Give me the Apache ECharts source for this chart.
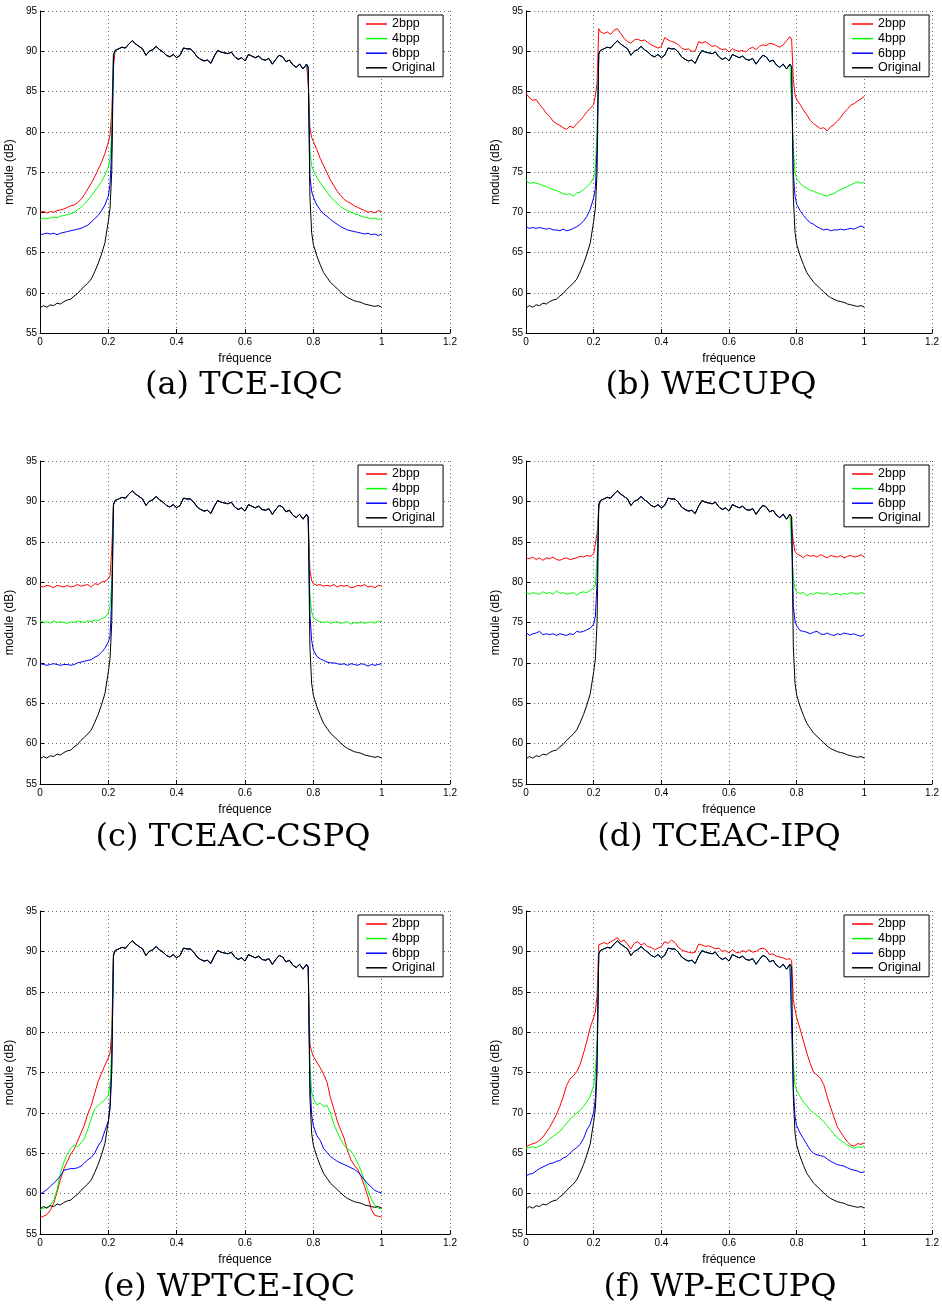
<!DOCTYPE html>
<html>
<head>
<meta charset="utf-8">
<title>Spectres</title>
<script src="https://cdn.jsdelivr.net/npm/echarts@6/dist/echarts.min.js"></script>
<style>
  html, body { margin: 0; padding: 0; background: #fff; }
  #chart { width: 942px; height: 1310px; }
</style>
</head>
<body>
<div id="chart"></div>
<script>
// frequency samples (normalised), denser around the two band edges
var freqLow = [0, 0.01, 0.02, 0.03, 0.04, 0.05, 0.06, 0.07, 0.08, 0.09, 0.1, 0.11, 0.12, 0.13, 0.14, 0.15, 0.16, 0.17, 0.18, 0.19, 0.2, 0.205, 0.21, 0.215];
var freqPass = [0.22, 0.23, 0.24, 0.25, 0.26, 0.27, 0.28, 0.29, 0.3, 0.31, 0.32, 0.33, 0.34, 0.35, 0.36, 0.37, 0.38, 0.39,
  0.4, 0.41, 0.42, 0.43, 0.44, 0.45, 0.46, 0.47, 0.48, 0.49, 0.5, 0.51, 0.52, 0.53, 0.54, 0.55, 0.56, 0.57, 0.58, 0.59,
  0.6, 0.61, 0.62, 0.63, 0.64, 0.65, 0.66, 0.67, 0.68, 0.69, 0.7, 0.71, 0.72, 0.73, 0.74, 0.75, 0.76, 0.77, 0.78];
var freqHigh = [0.785, 0.79, 0.795, 0.8, 0.81, 0.82, 0.83, 0.84, 0.85, 0.86, 0.87, 0.88, 0.89, 0.9, 0.91, 0.92, 0.93, 0.94, 0.95, 0.96, 0.97, 0.98, 0.99, 1];

var xTicks = [0, 0.2, 0.4, 0.6, 0.8, 1, 1.2];
var yTicks = [55, 60, 65, 70, 75, 80, 85, 90, 95];
var seriesNames = ['2bpp', '4bpp', '6bpp', 'Original'];
var captions = ['(a) TCE-IQC', '(b) WECUPQ', '(c) TCEAC-CSPQ', '(d) TCEAC-IPQ', '(e) WPTCE-IQC', '(f) WP-ECUPQ'];

// original signal (same in every panel), dB
var origLow = [58.1, 58.4, 58.2, 58.5, 58.4, 58.7, 58.6, 58.9, 59.1, 59.2, 59.6, 59.9, 60.4, 60.8, 61.2, 61.7, 62.6, 63.6, 64.8, 66.2, 68.9, 70.5, 75.0, 89.6];
var origPass = [90.1, 90.3, 90.5, 90.4, 90.9, 91.3, 90.9, 90.6, 90.3, 89.5, 90.0, 90.2, 90.6, 90.2, 89.9, 89.5, 89.3, 89.6,
  89.2, 89.5, 90.4, 90.3, 90.3, 89.9, 89.3, 89.0, 88.8, 88.9, 88.5, 89.4, 90.1, 89.9, 89.8, 89.7, 89.9, 89.3, 89.0, 89.2,
  88.8, 89.6, 89.4, 89.2, 89.4, 89.0, 88.9, 89.1, 88.4, 89.0, 89.5, 89.3, 88.7, 88.9, 88.3, 88.0, 88.4, 87.8, 88.4];
var origHigh = [88.1, 72.0, 67.5, 66.0, 64.6, 63.5, 62.5, 61.9, 61.3, 60.9, 60.5, 60.1, 59.7, 59.4, 59.2, 59.0, 58.9, 58.8, 58.6, 58.5, 58.4, 58.3, 58.4, 58.2];

// (a) TCE-IQC
var a2Low = [70.0, 70.1, 69.9, 70.1, 70.0, 70.2, 70.3, 70.4, 70.6, 70.8, 70.9, 71.2, 71.6, 72.2, 72.9, 73.6, 74.4, 75.3, 76.2, 77.3, 78.7, 79.6, 82.5, 88.0];
var a2High = [86.0, 80.5, 79.3, 78.8, 77.8, 76.7, 75.8, 74.9, 74.0, 73.3, 72.6, 72.1, 71.6, 71.3, 71.1, 70.8, 70.6, 70.4, 70.2, 70.0, 70.1, 69.9, 70.2, 70.1];
var a4Low = [69.0, 69.3, 69.2, 69.3, 69.4, 69.3, 69.5, 69.6, 69.7, 69.8, 70.0, 70.3, 70.6, 71.0, 71.5, 72.0, 72.6, 73.2, 73.8, 74.6, 75.6, 76.6, 80.0, 89.3];
var a4High = [87.5, 77.5, 75.8, 75.2, 74.3, 73.7, 73.1, 72.5, 71.9, 71.5, 71.1, 70.7, 70.4, 70.2, 70.0, 69.8, 69.7, 69.5, 69.4, 69.3, 69.2, 69.3, 69.1, 69.2];
var a6Low = [67.2, 67.3, 67.4, 67.3, 67.4, 67.2, 67.4, 67.5, 67.6, 67.7, 67.8, 67.9, 68.0, 68.2, 68.4, 68.8, 69.2, 69.6, 70.2, 70.9, 72.0, 73.5, 78.0, 89.5];
var a6High = [87.8, 74.5, 72.6, 71.9, 70.9, 70.3, 69.8, 69.5, 69.1, 68.8, 68.5, 68.2, 68.0, 67.8, 67.7, 67.6, 67.5, 67.4, 67.3, 67.4, 67.2, 67.3, 67.1, 67.3];

// (b) WECUPQ
var b2Low = [84.8, 84.2, 83.9, 84.0, 83.4, 82.9, 82.3, 81.9, 81.3, 81.0, 80.8, 80.5, 80.3, 80.7, 80.5, 81.0, 81.4, 81.9, 82.5, 82.9, 83.4, 84.5, 86.0, 92.8];
var b2Pass = [92.4, 92.2, 92.4, 92.1, 92.6, 92.8, 92.2, 91.6, 91.2, 91.0, 91.4, 91.5, 91.3, 91.4, 91.1, 90.8, 90.6, 90.4,
  90.6, 91.7, 91.4, 91.2, 91.1, 90.8, 90.4, 90.2, 90.3, 90.0, 90.0, 91.2, 91.0, 91.2, 90.9, 90.6, 90.7, 90.4, 90.2, 90.3,
  89.9, 90.3, 90.1, 90.0, 90.1, 89.9, 90.3, 90.5, 90.2, 90.6, 90.8, 90.7, 91.0, 90.9, 90.7, 90.5, 90.8, 91.3, 91.8];
var b2High = [91.5, 86.5, 84.6, 84.0, 83.4, 82.7, 82.1, 81.4, 81.0, 80.7, 80.4, 80.5, 80.1, 80.6, 80.9, 81.3, 81.8, 82.4, 82.8, 83.3, 83.5, 83.8, 84.1, 84.4];
var b4Low = [74.0, 73.6, 73.7, 73.6, 73.5, 73.3, 73.2, 73.0, 72.8, 72.7, 72.5, 72.3, 72.2, 72.3, 72.0, 72.4, 72.5, 72.8, 73.2, 73.6, 74.3, 75.5, 80.0, 89.8];
var b4High = [88.2, 78.0, 75.0, 74.2, 73.6, 73.2, 73.0, 72.7, 72.6, 72.4, 72.3, 72.1, 72.0, 72.2, 72.3, 72.6, 72.8, 73.0, 73.2, 73.4, 73.6, 73.8, 73.6, 73.7];
var b6Low = [68.2, 68.0, 68.1, 68.0, 68.1, 68.0, 67.9, 68.0, 67.8, 67.8, 67.7, 67.9, 67.7, 67.8, 68.0, 68.2, 68.5, 68.9, 69.5, 70.4, 71.8, 73.0, 78.0, 89.8];
var b6High = [88.0, 75.0, 72.0, 71.0, 70.2, 69.6, 69.1, 68.7, 68.5, 68.2, 68.0, 67.8, 67.9, 67.7, 67.8, 67.8, 67.9, 67.8, 67.9, 68.0, 67.9, 68.1, 68.3, 68.1];

// (c) TCEAC-CSPQ
var c2Low = [79.5, 79.4, 79.6, 79.5, 79.3, 79.6, 79.5, 79.4, 79.6, 79.4, 79.5, 79.7, 79.5, 79.6, 79.7, 79.4, 79.8, 79.7, 80.0, 80.1, 80.4, 80.8, 84.0, 89.5];
var c2High = [88.0, 81.5, 80.2, 79.8, 79.6, 79.7, 79.5, 79.6, 79.5, 79.7, 79.4, 79.6, 79.5, 79.6, 79.3, 79.4, 79.6, 79.5, 79.7, 79.4, 79.5, 79.3, 79.6, 79.5];
var c4Low = [75.2, 75.0, 75.1, 74.9, 75.2, 75.0, 75.1, 75.0, 74.9, 75.1, 75.0, 75.2, 75.1, 75.0, 75.2, 75.1, 75.3, 75.2, 75.5, 75.6, 76.2, 77.0, 80.0, 89.6];
var c4High = [88.0, 78.5, 76.3, 75.6, 75.3, 75.1, 75.0, 75.1, 74.9, 75.0, 75.1, 74.9, 75.0, 75.1, 74.8, 75.0, 74.9, 75.1, 74.9, 75.0, 75.1, 74.9, 75.2, 75.1];
var c6Low = [69.9, 69.8, 69.7, 69.8, 69.9, 69.8, 69.7, 69.8, 69.8, 69.7, 69.8, 70.0, 70.1, 70.2, 70.3, 70.4, 70.7, 70.9, 71.3, 71.8, 72.6, 73.3, 78.0, 89.6];
var c6High = [88.0, 76.0, 72.8, 71.6, 70.8, 70.5, 70.3, 70.1, 70.0, 70.0, 69.9, 69.8, 69.9, 69.7, 69.9, 69.8, 69.7, 69.9, 69.8, 69.6, 69.8, 69.7, 69.8, 69.9];

// (d) TCEAC-IPQ
var d2Low = [83.0, 82.9, 83.1, 82.8, 83.0, 82.7, 83.0, 82.9, 83.1, 82.8, 82.7, 82.9, 83.0, 82.8, 82.9, 83.0, 83.2, 83.1, 83.3, 83.2, 83.5, 83.4, 86.0, 89.2];
var d2High = [88.3, 85.0, 83.8, 83.5, 83.3, 83.0, 83.4, 83.2, 83.3, 83.1, 83.4, 83.2, 83.0, 83.3, 83.2, 83.1, 83.3, 83.0, 83.2, 83.3, 83.1, 83.2, 83.4, 83.1];
var d4Low = [78.8, 78.5, 78.7, 78.6, 78.5, 78.8, 78.6, 78.7, 78.5, 78.9, 78.6, 78.7, 78.5, 78.6, 78.7, 78.4, 78.7, 78.8, 78.7, 79.0, 79.3, 79.6, 83.0, 89.6];
var d4High = [88.2, 80.5, 79.2, 78.8, 78.6, 78.7, 78.3, 78.6, 78.5, 78.7, 78.6, 78.5, 78.7, 78.4, 78.5, 78.6, 78.4, 78.6, 78.5, 78.7, 78.6, 78.5, 78.7, 78.6];
var d6Low = [73.8, 73.4, 73.6, 73.7, 73.9, 73.5, 73.6, 73.5, 73.6, 73.4, 73.6, 73.5, 73.4, 73.6, 73.5, 73.9, 73.8, 73.9, 74.1, 74.3, 74.8, 75.8, 80.0, 89.6];
var d6High = [88.1, 77.0, 75.2, 74.6, 74.0, 73.9, 73.8, 73.6, 73.8, 73.9, 73.6, 73.5, 73.7, 73.5, 73.4, 73.6, 73.5, 73.7, 73.6, 73.5, 73.6, 73.4, 73.3, 73.5];

// (e) WPTCE-IQC
var e2Low = [57.0, 57.2, 57.4, 57.9, 58.8, 60.2, 61.8, 63.1, 64.0, 64.9, 65.5, 66.5, 67.5, 68.5, 69.9, 70.9, 72.4, 73.9, 74.9, 75.9, 76.8, 77.4, 80.0, 89.3];
var e2High = [88.0, 78.5, 77.6, 77.0, 76.3, 75.6, 74.8, 73.8, 71.9, 70.5, 69.0, 67.9, 66.9, 65.3, 64.2, 63.5, 63.0, 62.1, 60.9, 59.6, 58.0, 57.3, 57.2, 57.1];
var e4Low = [58.0, 58.2, 58.3, 58.6, 59.1, 60.5, 62.6, 63.9, 64.9, 65.6, 66.0, 65.8, 66.3, 66.8, 68.0, 69.3, 70.5, 70.9, 71.3, 71.6, 72.2, 73.5, 78.0, 89.6];
var e4High = [88.0, 76.0, 72.6, 71.8, 71.0, 71.2, 70.8, 70.9, 70.0, 68.6, 67.6, 66.7, 66.0, 65.5, 65.3, 64.6, 63.8, 62.8, 61.6, 60.4, 59.3, 58.5, 58.2, 58.1];
var e6Low = [59.9, 60.2, 60.5, 60.9, 61.3, 61.7, 62.2, 62.9, 63.0, 63.1, 63.1, 63.2, 63.4, 63.8, 64.2, 64.5, 65.0, 65.9, 66.5, 67.8, 69.0, 71.0, 76.0, 89.6];
var e6High = [88.0, 74.0, 69.8, 68.4, 67.2, 66.6, 65.6, 65.1, 64.6, 64.3, 64.0, 63.8, 63.6, 63.4, 63.2, 63.0, 62.7, 62.2, 61.7, 61.2, 60.8, 60.4, 60.2, 60.1];

// (f) WP-ECUPQ
var f2Low = [65.8, 66.0, 66.2, 66.3, 66.6, 67.0, 67.6, 68.2, 69.0, 69.8, 70.8, 72.0, 73.4, 74.2, 74.6, 75.1, 76.0, 77.4, 78.9, 80.6, 81.8, 82.5, 84.5, 90.8];
var f2Pass = [90.8, 91.1, 90.9, 91.2, 91.4, 91.7, 91.2, 91.4, 90.9, 90.3, 91.0, 91.2, 90.8, 91.0, 90.6, 90.5, 90.2, 90.4,
  90.6, 91.2, 91.0, 91.4, 91.1, 90.5, 90.2, 90.0, 89.9, 89.8, 89.9, 90.9, 90.8, 90.6, 90.7, 90.5, 90.3, 90.4, 90.0, 90.1,
  89.8, 90.2, 89.9, 89.8, 90.1, 89.9, 90.2, 89.9, 90.0, 90.3, 90.4, 90.2, 89.6, 89.7, 89.4, 89.3, 89.2, 89.0, 89.1];
var f2High = [88.8, 84.0, 82.8, 81.8, 80.4, 78.9, 77.4, 76.1, 75.0, 74.7, 74.3, 73.5, 72.0, 70.7, 69.5, 68.3, 67.6, 67.0, 66.4, 66.0, 65.9, 66.2, 66.1, 66.3];
var f4Low = [65.6, 65.7, 65.8, 65.7, 65.9, 66.1, 66.4, 66.8, 67.1, 67.4, 67.7, 68.2, 68.7, 69.2, 69.6, 70.0, 70.3, 70.8, 71.4, 72.1, 73.4, 75.0, 79.0, 90.0];
var f4High = [88.5, 76.0, 73.5, 72.8, 72.0, 71.3, 70.9, 70.3, 70.0, 69.7, 69.3, 68.9, 68.4, 67.9, 67.4, 66.9, 66.6, 66.3, 66.0, 65.8, 65.6, 65.8, 65.7, 65.9];
var f6Low = [62.2, 62.4, 62.5, 62.8, 63.1, 63.3, 63.5, 63.7, 63.8, 64.0, 64.1, 64.4, 64.6, 65.0, 65.4, 65.7, 66.1, 66.8, 67.9, 68.6, 70.1, 71.8, 77.0, 89.8];
var f6High = [88.2, 73.0, 69.5, 68.4, 67.5, 66.8, 66.1, 65.4, 65.0, 64.8, 64.7, 64.6, 64.3, 64.0, 63.8, 63.6, 63.5, 63.4, 63.2, 63.0, 62.9, 62.8, 62.6, 62.7];

function pairs(xs, ys) {
  return xs.map(function (x, i) { return [x, ys[i]]; });
}
function curve(low, pass, high) {
  return pairs(freqLow, low).concat(pairs(freqPass, pass), pairs(freqHigh, high));
}

var colors = ['#ff0000', '#00ff00', '#0000ff', '#000000'];
var panels = [
  { left: 40, top: 11, h: 322, capX: 244, capY: 386,
    curves: [[a2Low, origPass, a2High], [a4Low, origPass, a4High], [a6Low, origPass, a6High]] },
  { left: 526, top: 11, h: 322, capX: 711, capY: 386,
    curves: [[b2Low, b2Pass, b2High], [b4Low, origPass, b4High], [b6Low, origPass, b6High]] },
  { left: 40, top: 461, h: 323, capX: 233, capY: 838,
    curves: [[c2Low, origPass, c2High], [c4Low, origPass, c4High], [c6Low, origPass, c6High]] },
  { left: 526, top: 461, h: 323, capX: 719, capY: 838,
    curves: [[d2Low, origPass, d2High], [d4Low, origPass, d4High], [d6Low, origPass, d6High]] },
  { left: 40, top: 911, h: 323, capX: 229, capY: 1288,
    curves: [[e2Low, origPass, e2High], [e4Low, origPass, e4High], [e6Low, origPass, e6High]] },
  { left: 526, top: 911, h: 323, capX: 720, capY: 1288,
    curves: [[f2Low, f2Pass, f2High], [f4Low, origPass, f4High], [f6Low, origPass, f6High]] }
];

var font = 'Liberation Sans, Arial, sans-serif';
var grids = [], xAxes = [], yAxes = [], legends = [], series = [], texts = [];

panels.forEach(function (p, i) {
  grids.push({ left: p.left, top: p.top, width: 410, height: p.h });
  xAxes.push({
    type: 'value', gridIndex: i,
    min: xTicks[0], max: xTicks[xTicks.length - 1], interval: 0.2,
    name: 'fréquence', nameLocation: 'middle', nameGap: 20,
    nameTextStyle: { fontFamily: font, fontSize: 12, color: '#000' },
    axisLine: { lineStyle: { color: '#000', width: 1 } },
    axisTick: { inside: true, length: 4, lineStyle: { color: '#000' } },
    axisLabel: { fontFamily: font, fontSize: 10, color: '#000', margin: 4 },
    splitLine: { show: true, lineStyle: { color: '#666', width: 1, type: [1, 3] } }
  });
  yAxes.push({
    type: 'value', gridIndex: i,
    min: yTicks[0], max: yTicks[yTicks.length - 1], interval: 5,
    name: 'module (dB)', nameLocation: 'middle', nameGap: 24,
    nameTextStyle: { fontFamily: font, fontSize: 12, color: '#000' },
    axisLine: { show: true, lineStyle: { color: '#000', width: 1 } },
    axisTick: { show: true, inside: true, length: 4, lineStyle: { color: '#000' } },
    axisLabel: { fontFamily: font, fontSize: 10, color: '#000', margin: 3 },
    splitLine: { show: true, lineStyle: { color: '#666', width: 1, type: [1, 3] } }
  });
  legends.push({
    data: seriesNames, orient: 'vertical',
    left: p.left + 318, top: p.top + 4,
    padding: [2, 8, 2, 8], itemGap: 0.6, itemWidth: 21, itemHeight: 1.5,
    icon: 'rect', selectedMode: false,
    borderColor: '#000', borderWidth: 1, borderRadius: 0, backgroundColor: '#fff',
    textStyle: { fontFamily: font, fontSize: 12.5, lineHeight: 14, color: '#000' }
  });
  var lines = p.curves.concat([[origLow, origPass, origHigh]]);
  lines.forEach(function (c, k) {
    series.push({
      type: 'line', name: seriesNames[k],
      xAxisIndex: i, yAxisIndex: i,
      data: curve(c[0], c[1], c[2]),
      symbol: 'none', showSymbol: false,
      lineStyle: { width: 1, color: colors[k] },
      itemStyle: { color: colors[k] }
    });
  });
  texts.push({
    type: 'text',
    x: p.capX, y: p.capY,
    style: {
      text: captions[i], fill: '#000',
      font: '32px "DejaVu Serif", serif',
      textAlign: 'center', textVerticalAlign: 'middle',
      align: 'center', verticalAlign: 'middle'
    }
  });
});

var chart = echarts.init(document.getElementById('chart'), null, { renderer: 'canvas' });
chart.setOption({
  animation: false,
  backgroundColor: '#fff',
  grid: grids,
  xAxis: xAxes,
  yAxis: yAxes,
  legend: legends,
  series: series,
  graphic: texts
});
</script>
</body>
</html>
